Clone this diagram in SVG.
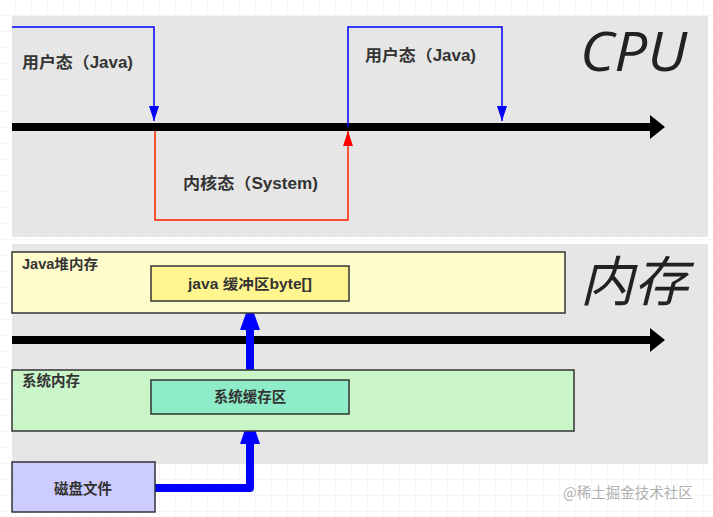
<svg xmlns="http://www.w3.org/2000/svg" width="713" height="517" viewBox="0 0 713 517">
<style>
.lbl{font-family:"Liberation Sans","Noto Sans CJK SC",sans-serif;font-weight:bold;fill:#333;}
.big{font-family:"Open Sans","Noto Sans CJK SC",sans-serif;font-style:italic;fill:#222;}
.box{stroke:#333;stroke-width:1.5;}
</style>
<defs>
<pattern id="grid" width="16" height="16" patternUnits="userSpaceOnUse">
<path d="M16 0V16M0 16H16" fill="none" stroke="#eeeeee" stroke-width="1"/>
</pattern>
<marker id="blueHead" viewBox="0 0 15 10" refX="15" refY="5" markerWidth="15" markerHeight="10" markerUnits="userSpaceOnUse" orient="auto">
<path d="M0 0L15 5L0 10Z" fill="#0000ff"/>
</marker>
<marker id="redHead" viewBox="0 0 15 10" refX="15" refY="5" markerWidth="15" markerHeight="10" markerUnits="userSpaceOnUse" orient="auto">
<path d="M0 0L15 5L0 10Z" fill="#ff0000"/>
</marker>
</defs>
<rect width="713" height="517" fill="#ffffff"/>
<rect width="713" height="517" fill="url(#grid)"/>

<g id="cpu-panel">
<rect x="12" y="16" width="696" height="221" fill="#e6e6e6"/>
<text class="big" x="580" y="71" font-size="54" textLength="107" lengthAdjust="spacingAndGlyphs">CPU</text>
</g>
<g id="mem-panel">
<rect x="12" y="244" width="696" height="220" fill="#e6e6e6"/>
<text class="big" x="580" y="301" font-size="54" textLength="108" lengthAdjust="spacingAndGlyphs">内存</text>
</g>

<g id="connectors">
<!-- CPU timeline -->
<line x1="12" y1="127" x2="652" y2="127" stroke="#000" stroke-width="8"/>
<path d="M650 115L665 127L650 139Z" fill="#000"/>
<path d="M12 27H154V121" fill="none" stroke="#0000ff" stroke-width="1.5" marker-end="url(#blueHead)"/>
<path d="M155 131V220H348V131" fill="none" stroke="#ff2200" stroke-width="1.5" marker-end="url(#redHead)"/>
<path d="M348 127V27H502V121" fill="none" stroke="#0000ff" stroke-width="1.5" marker-end="url(#blueHead)"/>
<!-- memory timeline -->
<line x1="12" y1="340" x2="652" y2="340" stroke="#000" stroke-width="8"/>
<path d="M650 328L665 340L650 352Z" fill="#000"/>
<!-- thick blue arrows -->
<path d="M250 380V326" fill="none" stroke="#0000ff" stroke-width="8"/>
<path d="M240 330L250 302L260 330Z" fill="#0000ff"/>
<path d="M155 488H250V440" fill="none" stroke="#0000ff" stroke-width="8" stroke-linejoin="round"/>
<path d="M240 444L250 415L260 444Z" fill="#0000ff"/>
</g>

<g id="user-java-1"><text class="lbl" x="22" y="68" font-size="16" textLength="111" lengthAdjust="spacingAndGlyphs">用户态（Java)</text></g>
<g id="kernel-system"><text class="lbl" x="183" y="189" font-size="16" textLength="135" lengthAdjust="spacingAndGlyphs">内核态（System)</text></g>
<g id="user-java-2"><text class="lbl" x="365" y="61" font-size="16" textLength="111" lengthAdjust="spacingAndGlyphs">用户态（Java)</text></g>

<g id="java-heap">
<rect class="box" x="12" y="252" width="553" height="61" fill="#fffccc"/>
<text class="lbl" x="22" y="269" font-size="14" textLength="76" lengthAdjust="spacingAndGlyphs">Java堆内存</text>
</g>
<g id="java-buffer">
<rect class="box" x="151" y="266" width="198" height="35" fill="#fff68f"/>
<text class="lbl" x="188" y="289" font-size="14" textLength="124" lengthAdjust="spacingAndGlyphs">java 缓冲区byte[]</text>
</g>
<g id="sys-mem">
<rect class="box" x="12" y="370" width="562" height="61" fill="#c9f5c9"/>
<text class="lbl" x="22" y="386" font-size="14.5">系统内存</text>
</g>
<g id="sys-cache">
<rect class="box" x="151" y="380" width="198" height="34" fill="#8eecc8"/>
<text class="lbl" x="250" y="402" font-size="14.5" text-anchor="middle">系统缓存区</text>
</g>
<g id="disk-file">
<rect class="box" x="12" y="462" width="143" height="50" fill="#ccccff"/>
<text class="lbl" x="83" y="494" font-size="14.5" text-anchor="middle">磁盘文件</text>
</g>

<text x="563" y="498" font-family="'Noto Sans CJK SC',sans-serif" font-size="14.5" fill="#b0b0b0">@稀土掘金技术社区</text>
</svg>
